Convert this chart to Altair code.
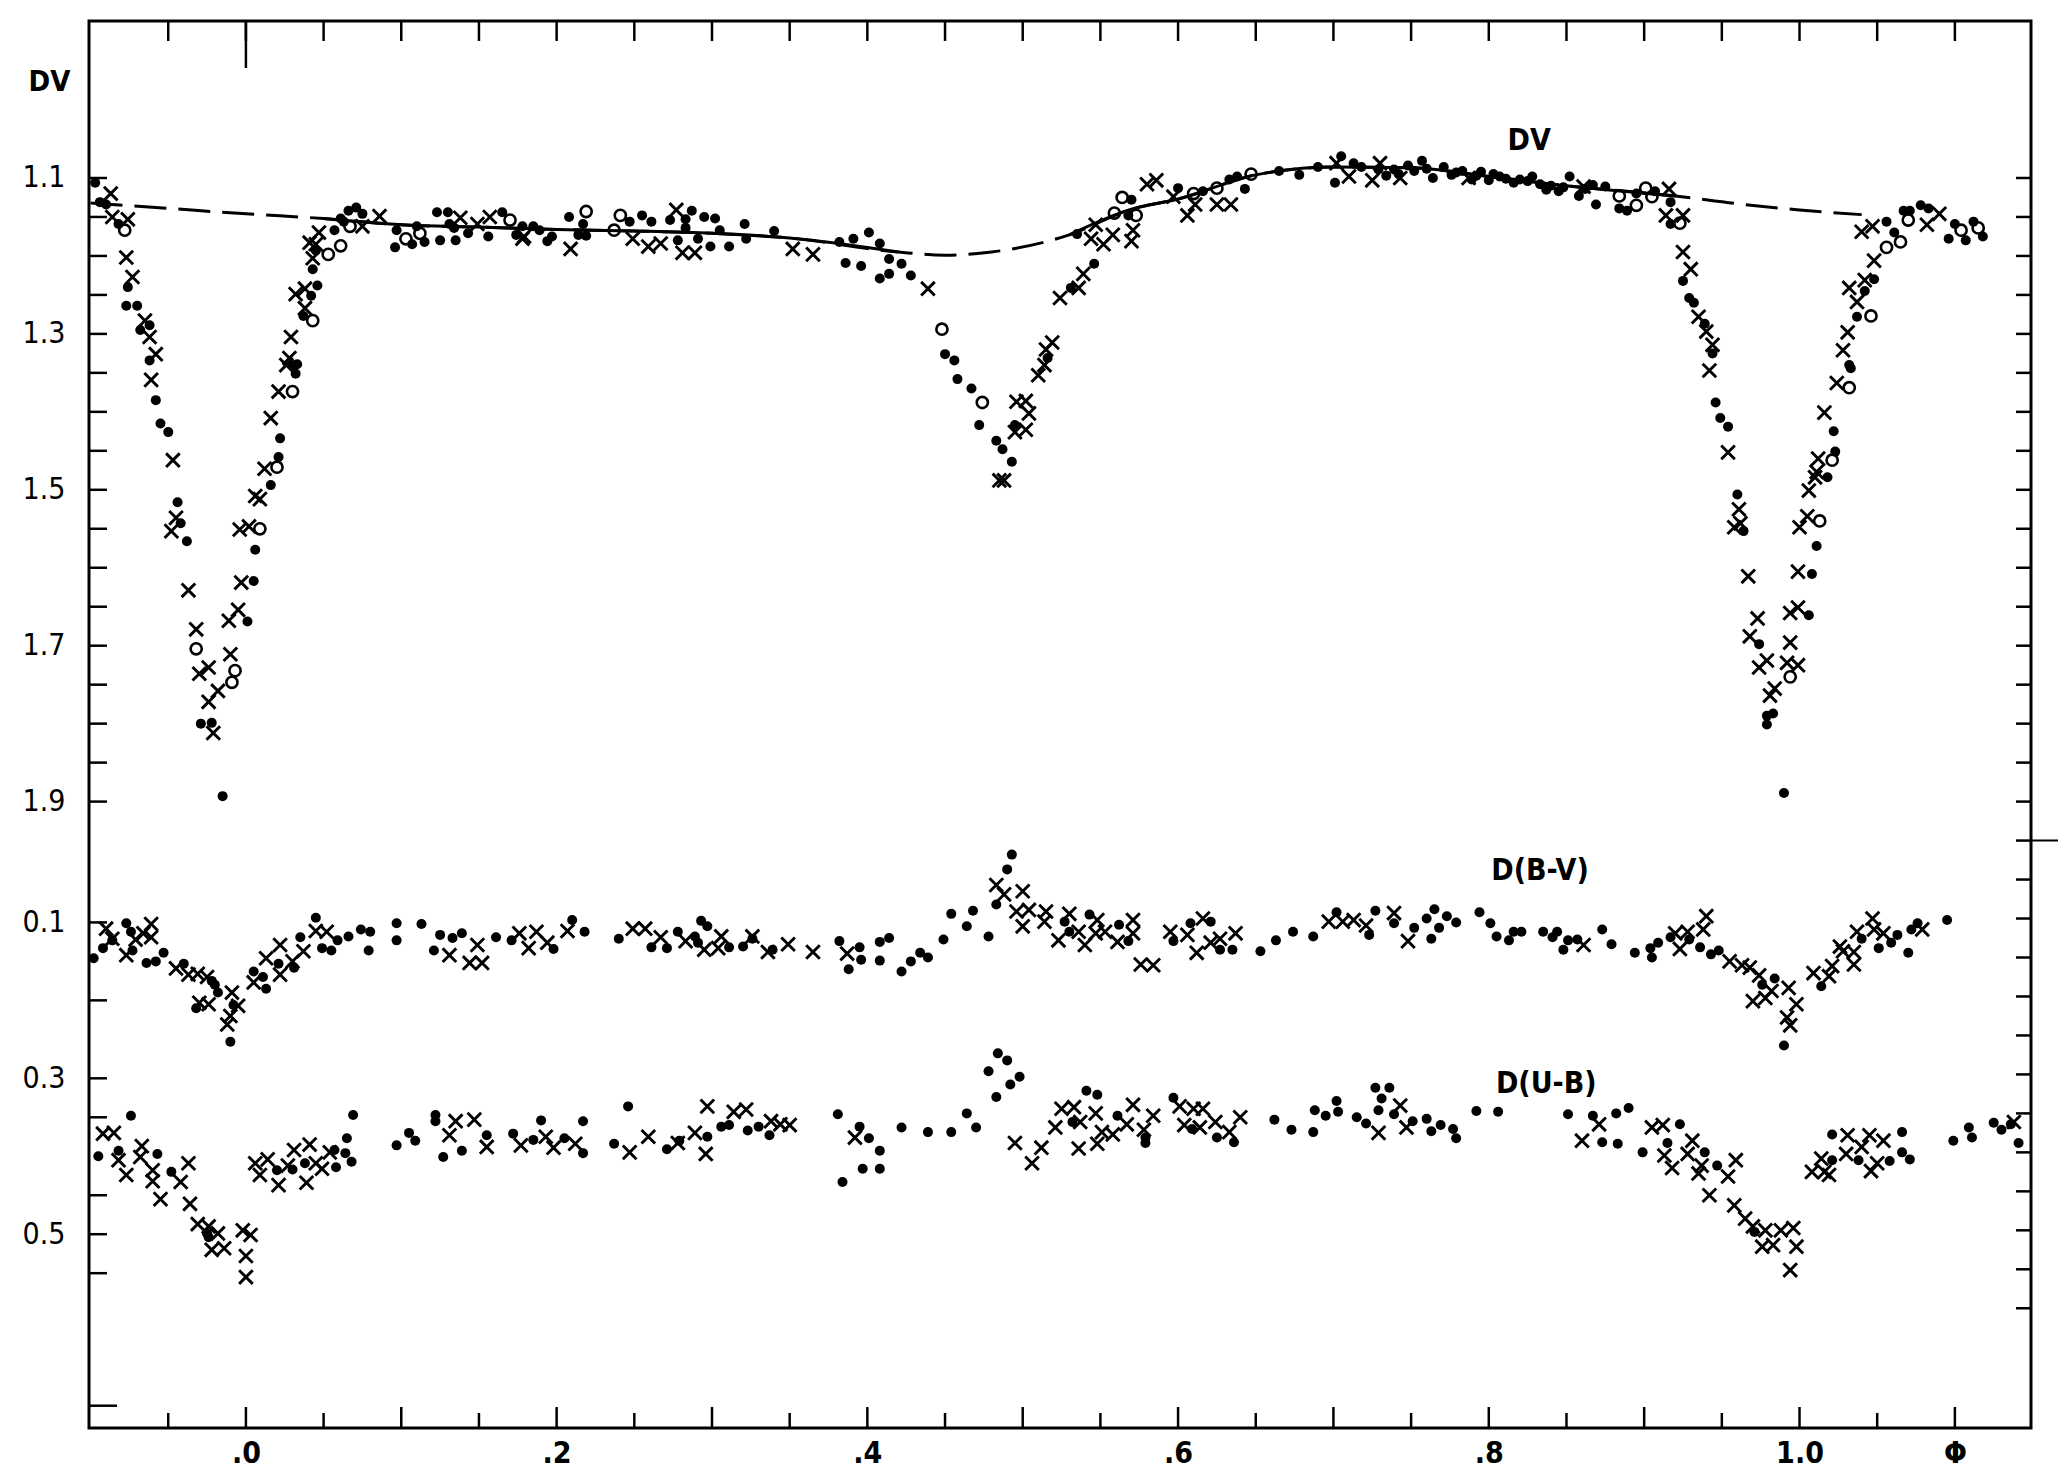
import altair as alt
import pandas as pd

# ---------------- data: (phase, value) ----------------
# DV panel
dv_dots = [
    (-0.097, 1.106), (-0.094, 1.131), (-0.090, 1.134), (-0.082, 1.159), (-0.076, 1.240),
    (-0.077, 1.264), (-0.070, 1.264), (-0.068, 1.295), (-0.062, 1.289), (-0.062, 1.334),
    (-0.058, 1.385), (-0.055, 1.415), (-0.050, 1.426), (-0.044, 1.516), (-0.042, 1.543),
    (-0.038, 1.566), (-0.029, 1.800), (-0.022, 1.799), (-0.015, 1.893), (0.001, 1.669),
    (0.005, 1.617), (0.006, 1.577), (0.016, 1.494), (0.021, 1.458), (0.022, 1.434),
    (0.030, 1.341), (0.033, 1.339), (0.032, 1.351), (0.037, 1.277), (0.042, 1.251),
    (0.046, 1.238), (0.043, 1.217), (0.045, 1.193), (0.057, 1.167), (0.061, 1.152),
    (0.063, 1.156), (0.066, 1.142), (0.071, 1.138), (0.075, 1.146), (0.096, 1.189),
    (0.097, 1.167), (0.107, 1.185), (0.115, 1.182), (0.110, 1.162), (0.123, 1.144),
    (0.125, 1.180), (0.130, 1.144), (0.135, 1.180), (0.131, 1.159), (0.143, 1.171),
    (0.134, 1.164), (0.156, 1.175), (0.165, 1.144), (0.174, 1.173), (0.178, 1.162),
    (0.185, 1.162), (0.189, 1.167), (0.194, 1.181), (0.197, 1.175), (0.208, 1.150),
    (0.214, 1.173), (0.219, 1.174), (0.217, 1.159), (0.247, 1.156), (0.255, 1.148),
    (0.261, 1.156), (0.273, 1.154), (0.278, 1.180), (0.283, 1.153), (0.287, 1.142),
    (0.295, 1.150), (0.302, 1.152), (0.291, 1.178), (0.299, 1.188), (0.311, 1.188),
    (0.305, 1.167), (0.283, 1.164),
    (0.321, 1.159), (0.322, 1.178), (0.340, 1.168), (0.382, 1.182), (0.391, 1.178),
    (0.401, 1.170), (0.408, 1.184), (0.386, 1.209), (0.396, 1.213), (0.414, 1.204),
    (0.422, 1.210), (0.408, 1.229), (0.414, 1.223), (0.428, 1.225), (0.450, 1.326),
    (0.456, 1.334), (0.458, 1.358), (0.467, 1.370), (0.472, 1.417), (0.483, 1.437),
    (0.487, 1.448), (0.493, 1.464), (0.495, 1.417), (0.516, 1.331), (0.531, 1.241),
    (0.546, 1.210), (0.535, 1.172), (0.570, 1.128), (0.568, 1.148), (0.600, 1.113),
    (0.616, 1.117), (0.633, 1.102), (0.638, 1.098), (0.643, 1.114), (0.665, 1.091),
    (0.678, 1.096), (0.690, 1.086), (0.701, 1.106), (0.705, 1.072), (0.718, 1.086),
    (0.729, 1.089), (0.713, 1.081), (0.734, 1.097),
    (0.739, 1.089), (0.748, 1.084), (0.757, 1.078), (0.764, 1.100), (0.771, 1.086),
    (0.776, 1.096), (0.783, 1.091), (0.789, 1.102), (0.795, 1.092), (0.800, 1.103),
    (0.807, 1.098), (0.816, 1.106), (0.828, 1.098), (0.837, 1.115), (0.845, 1.117),
    (0.852, 1.098), (0.858, 1.123), (0.867, 1.109), (0.869, 1.134), (0.875, 1.111),
    (0.884, 1.139), (0.889, 1.142), (0.895, 1.120), (0.907, 1.117), (0.917, 1.131),
    (0.917, 1.159), (0.742, 1.095), (0.752, 1.091), (0.760, 1.088), (0.779, 1.093),
    (0.792, 1.097), (0.803, 1.095), (0.811, 1.101), (0.820, 1.102), (0.825, 1.104),
    (0.833, 1.108), (0.840, 1.110), (0.848, 1.112), (0.862, 1.114),
    (0.925, 1.232), (0.929, 1.254), (0.932, 1.260), (0.939, 1.287), (0.944, 1.325),
    (0.946, 1.388), (0.949, 1.408), (0.954, 1.419), (0.960, 1.506), (0.964, 1.553),
    (0.974, 1.698), (0.979, 1.790), (0.983, 1.787), (0.979, 1.801), (0.990, 1.889),
    (1.006, 1.661), (1.008, 1.608), (1.011, 1.572), (1.018, 1.484), (1.023, 1.451),
    (1.022, 1.425), (1.032, 1.340), (1.033, 1.344), (1.037, 1.278), (1.042, 1.245),
    (1.048, 1.230), (1.061, 1.170), (1.056, 1.156), (1.067, 1.142), (1.071, 1.142),
    (1.078, 1.135), (1.083, 1.139), (1.100, 1.159), (1.096, 1.178), (1.107, 1.180),
    (1.112, 1.156), (1.118, 1.175),
]
dv_crosses = [
    (-0.087, 1.120), (-0.086, 1.150), (-0.076, 1.153), (-0.077, 1.202), (-0.073, 1.227),
    (-0.065, 1.283), (-0.062, 1.304), (-0.058, 1.326), (-0.061, 1.359), (-0.047, 1.462),
    (-0.045, 1.536), (-0.048, 1.553), (-0.037, 1.629), (-0.032, 1.679), (-0.030, 1.736),
    (-0.024, 1.728), (-0.018, 1.758), (-0.024, 1.772), (-0.021, 1.812), (-0.010, 1.711),
    (-0.011, 1.668), (-0.005, 1.654), (-0.003, 1.619), (-0.004, 1.551), (0.002, 1.547),
    (0.006, 1.508), (0.009, 1.512), (0.012, 1.473), (0.016, 1.408), (0.021, 1.374),
    (0.026, 1.340), (0.028, 1.331), (0.029, 1.304), (0.038, 1.267), (0.032, 1.249),
    (0.038, 1.242), (0.043, 1.203), (0.045, 1.185), (0.041, 1.183), (0.047, 1.170),
    (0.075, 1.162), (0.086, 1.149), (0.138, 1.151), (0.149, 1.159), (0.157, 1.150),
    (0.178, 1.178), (0.179, 1.175), (0.209, 1.191), (0.249, 1.178), (0.259, 1.188),
    (0.267, 1.184), (0.277, 1.141), (0.281, 1.196), (0.289, 1.196),
    (0.352, 1.191), (0.365, 1.198), (0.439, 1.242), (0.488, 1.488), (0.485, 1.488),
    (0.496, 1.387), (0.502, 1.386), (0.504, 1.402), (0.495, 1.426), (0.502, 1.423),
    (0.510, 1.353), (0.514, 1.340), (0.519, 1.311), (0.515, 1.320), (0.524, 1.254),
    (0.536, 1.241), (0.539, 1.223), (0.547, 1.160), (0.544, 1.178), (0.552, 1.185),
    (0.558, 1.173), (0.570, 1.181), (0.571, 1.167), (0.580, 1.108), (0.586, 1.103),
    (0.597, 1.124), (0.606, 1.148), (0.611, 1.134), (0.625, 1.134), (0.634, 1.134),
    (0.702, 1.081), (0.710, 1.098), (0.725, 1.103), (0.730, 1.081),
    (0.743, 1.100), (0.787, 1.100), (0.861, 1.111), (0.916, 1.114), (0.914, 1.148),
    (0.925, 1.148), (0.925, 1.195), (0.930, 1.217), (0.935, 1.278), (0.940, 1.297),
    (0.944, 1.314), (0.942, 1.347), (0.954, 1.452), (0.961, 1.525), (0.958, 1.548),
    (0.962, 1.543), (0.967, 1.611), (0.973, 1.665), (0.968, 1.688), (0.974, 1.728),
    (0.979, 1.719), (0.984, 1.755), (0.981, 1.764), (0.994, 1.696), (0.999, 1.725),
    (0.992, 1.722), (0.994, 1.658), (0.999, 1.651), (0.999, 1.605), (1.000, 1.548),
    (1.005, 1.534), (1.006, 1.501), (1.010, 1.484), (1.011, 1.477), (1.012, 1.460),
    (1.016, 1.401), (1.024, 1.363), (1.028, 1.321), (1.031, 1.298), (1.037, 1.259),
    (1.032, 1.241), (1.042, 1.231), (1.048, 1.206), (1.040, 1.169), (1.047, 1.162),
    (1.082, 1.160), (1.090, 1.146),
]
dv_open = [
    (-0.078, 1.167), (-0.032, 1.704), (-0.007, 1.732), (-0.009, 1.747), (0.009, 1.550),
    (0.020, 1.471), (0.030, 1.374), (0.043, 1.283), (0.053, 1.198), (0.061, 1.187),
    (0.067, 1.162), (0.103, 1.178), (0.112, 1.171), (0.170, 1.154), (0.219, 1.143),
    (0.237, 1.167), (0.241, 1.148), (0.448, 1.294), (0.474, 1.388), (0.564, 1.125),
    (0.559, 1.145), (0.573, 1.148), (0.625, 1.113), (0.647, 1.095), (0.610, 1.120),
    (0.884, 1.123), (0.895, 1.135), (0.901, 1.113), (0.905, 1.124), (0.923, 1.158),
    (0.994, 1.740), (1.013, 1.540), (1.021, 1.462), (1.032, 1.369), (1.046, 1.277),
    (1.056, 1.189), (1.065, 1.182), (1.070, 1.154), (1.104, 1.167), (1.115, 1.164),
]

# D(B-V)
bv_dots = [
    (-0.098, 0.146), (-0.092, 0.133), (-0.086, 0.123), (-0.077, 0.101), (-0.074, 0.112),
    (-0.073, 0.136), (-0.064, 0.152), (-0.058, 0.150), (-0.053, 0.139), (-0.040, 0.153),
    (-0.032, 0.210), (-0.022, 0.175), (-0.020, 0.180), (-0.018, 0.190), (-0.010, 0.253),
    (-0.008, 0.206), (0.005, 0.163), (0.013, 0.185), (0.011, 0.170), (0.021, 0.153),
    (0.031, 0.158), (0.035, 0.119), (0.045, 0.094), (0.049, 0.133), (0.055, 0.136),
    (0.059, 0.123), (0.066, 0.118), (0.074, 0.109), (0.080, 0.112), (0.079, 0.136),
    (0.097, 0.101), (0.097, 0.123), (0.113, 0.102), (0.125, 0.116), (0.121, 0.136),
    (0.133, 0.120), (0.139, 0.114), (0.161, 0.119), (0.171, 0.123), (0.198, 0.134),
    (0.210, 0.097), (0.218, 0.112), (0.240, 0.121), (0.261, 0.132), (0.271, 0.133),
    (0.278, 0.112), (0.293, 0.098), (0.297, 0.105), (0.289, 0.118), (0.291, 0.126),
    (0.311, 0.132),
    (0.320, 0.131), (0.326, 0.121), (0.339, 0.135), (0.382, 0.124), (0.388, 0.160),
    (0.395, 0.132), (0.396, 0.148), (0.408, 0.149), (0.408, 0.125), (0.414, 0.120),
    (0.422, 0.163), (0.428, 0.150), (0.434, 0.139), (0.439, 0.145), (0.449, 0.122),
    (0.454, 0.089), (0.464, 0.105), (0.468, 0.085), (0.478, 0.118), (0.483, 0.077),
    (0.490, 0.032), (0.493, 0.013), (0.527, 0.099), (0.530, 0.112), (0.543, 0.090),
    (0.562, 0.103), (0.568, 0.124), (0.597, 0.124), (0.608, 0.101), (0.621, 0.099),
    (0.627, 0.135), (0.635, 0.135), (0.653, 0.137), (0.663, 0.123), (0.674, 0.112),
    (0.687, 0.118), (0.702, 0.087), (0.727, 0.085), (0.723, 0.116),
    (0.739, 0.101), (0.752, 0.107), (0.760, 0.095), (0.765, 0.083), (0.768, 0.107),
    (0.773, 0.092), (0.779, 0.100), (0.763, 0.121), (0.794, 0.087), (0.801, 0.101),
    (0.805, 0.118), (0.813, 0.123), (0.816, 0.112), (0.821, 0.112), (0.835, 0.112),
    (0.841, 0.119), (0.844, 0.112), (0.848, 0.135), (0.851, 0.123), (0.857, 0.122),
    (0.873, 0.109), (0.879, 0.128), (0.894, 0.139), (0.904, 0.133), (0.905, 0.145),
    (0.909, 0.126), (0.917, 0.119), (0.929, 0.122), (0.936, 0.132), (0.943, 0.141),
    (0.948, 0.136), (0.976, 0.180), (0.984, 0.172), (0.990, 0.258), (1.014, 0.182),
    (1.040, 0.121), (1.051, 0.133), (1.059, 0.126), (1.063, 0.116), (1.070, 0.139),
    (1.072, 0.109), (1.076, 0.101), (1.095, 0.097),
]
bv_crosses = [
    (-0.090, 0.108), (-0.086, 0.121), (-0.061, 0.102), (-0.061, 0.119), (-0.077, 0.142),
    (-0.071, 0.122), (-0.066, 0.114), (-0.045, 0.159), (-0.037, 0.167), (-0.031, 0.166),
    (-0.025, 0.170), (-0.030, 0.203), (-0.024, 0.205), (-0.009, 0.190), (-0.005, 0.207),
    (-0.012, 0.231), (-0.010, 0.220), (0.005, 0.177), (0.013, 0.146), (0.022, 0.167),
    (0.022, 0.129), (0.030, 0.150), (0.037, 0.137), (0.045, 0.111), (0.052, 0.112),
    (0.131, 0.142), (0.149, 0.129), (0.144, 0.152), (0.152, 0.152), (0.176, 0.114),
    (0.182, 0.133), (0.187, 0.112), (0.194, 0.126), (0.207, 0.111), (0.249, 0.108),
    (0.257, 0.108), (0.267, 0.119), (0.295, 0.135), (0.304, 0.133), (0.306, 0.118),
    (0.283, 0.124),
    (0.326, 0.118), (0.336, 0.138), (0.349, 0.128), (0.365, 0.138), (0.387, 0.140),
    (0.483, 0.052), (0.488, 0.064), (0.500, 0.060), (0.496, 0.086), (0.500, 0.105),
    (0.504, 0.084), (0.514, 0.099), (0.515, 0.086), (0.530, 0.089), (0.523, 0.123),
    (0.536, 0.112), (0.540, 0.129), (0.548, 0.097), (0.547, 0.114), (0.553, 0.112),
    (0.561, 0.125), (0.571, 0.097), (0.571, 0.114), (0.576, 0.154), (0.584, 0.155),
    (0.595, 0.112), (0.606, 0.116), (0.616, 0.095), (0.612, 0.139), (0.621, 0.126),
    (0.627, 0.121), (0.637, 0.114), (0.697, 0.099), (0.706, 0.099), (0.713, 0.097),
    (0.721, 0.104),
    (0.739, 0.088), (0.748, 0.124), (0.861, 0.129), (0.923, 0.134), (0.920, 0.114),
    (0.928, 0.112), (0.938, 0.109), (0.940, 0.092), (0.955, 0.150), (0.963, 0.155),
    (0.968, 0.158), (0.974, 0.168), (0.970, 0.201), (0.978, 0.197), (0.982, 0.188),
    (0.993, 0.184), (0.998, 0.205), (0.992, 0.222), (0.994, 0.232), (1.009, 0.165),
    (1.019, 0.169), (1.021, 0.156), (1.026, 0.131), (1.028, 0.137), (1.035, 0.138),
    (1.035, 0.154), (1.037, 0.112), (1.047, 0.095), (1.048, 0.109), (1.054, 0.114),
    (1.079, 0.109),
]

# D(U-B)
ub_dots = [
    (-0.095, 0.400), (-0.074, 0.348), (-0.082, 0.393), (-0.057, 0.397), (-0.048, 0.420),
    (-0.025, 0.499), (-0.024, 0.504), (0.020, 0.418), (0.030, 0.417), (0.038, 0.409),
    (0.058, 0.414), (0.057, 0.392), (0.065, 0.377), (0.064, 0.396), (0.068, 0.407),
    (0.069, 0.347), (0.097, 0.386), (0.105, 0.370), (0.109, 0.380), (0.122, 0.347),
    (0.122, 0.355), (0.127, 0.401), (0.139, 0.393), (0.155, 0.373), (0.172, 0.371),
    (0.185, 0.379), (0.190, 0.354), (0.205, 0.377), (0.217, 0.355), (0.217, 0.396),
    (0.237, 0.384), (0.246, 0.336), (0.271, 0.391), (0.279, 0.380), (0.297, 0.375),
    (0.306, 0.362), (0.311, 0.360),
    (0.323, 0.367), (0.330, 0.362), (0.337, 0.373), (0.381, 0.346), (0.395, 0.362),
    (0.401, 0.377), (0.408, 0.393), (0.408, 0.416), (0.397, 0.416), (0.384, 0.433),
    (0.422, 0.363), (0.439, 0.369), (0.454, 0.369), (0.464, 0.345), (0.470, 0.363),
    (0.478, 0.291), (0.484, 0.268), (0.490, 0.277), (0.498, 0.298), (0.492, 0.308),
    (0.483, 0.324), (0.541, 0.316), (0.548, 0.321), (0.532, 0.356), (0.561, 0.348),
    (0.579, 0.376), (0.579, 0.383), (0.597, 0.325), (0.609, 0.365), (0.625, 0.376),
    (0.636, 0.382), (0.662, 0.353), (0.673, 0.366), (0.687, 0.369), (0.688, 0.341),
    (0.695, 0.348), (0.702, 0.329), (0.703, 0.343), (0.715, 0.350), (0.727, 0.312),
    (0.731, 0.326), (0.729, 0.341), (0.721, 0.358),
    (0.736, 0.312), (0.739, 0.346), (0.751, 0.355), (0.760, 0.352), (0.763, 0.368),
    (0.769, 0.360), (0.777, 0.365), (0.779, 0.377), (0.792, 0.342), (0.806, 0.343),
    (0.851, 0.346), (0.867, 0.348), (0.882, 0.345), (0.890, 0.338), (0.873, 0.382),
    (0.883, 0.384), (0.899, 0.395), (0.915, 0.383), (0.923, 0.359), (0.939, 0.395),
    (0.947, 0.412), (0.971, 0.497), (1.021, 0.405), (1.021, 0.372), (1.038, 0.405),
    (1.058, 0.406), (1.066, 0.369), (1.066, 0.395), (1.071, 0.404), (1.099, 0.380),
    (1.109, 0.363), (1.111, 0.376), (1.125, 0.357), (1.130, 0.366), (1.136, 0.359),
    (1.141, 0.383),
]
ub_crosses = [
    (-0.092, 0.371), (-0.085, 0.370), (-0.082, 0.405), (-0.077, 0.424), (-0.067, 0.387),
    (-0.068, 0.401), (-0.060, 0.418), (-0.060, 0.432), (-0.055, 0.455), (-0.037, 0.409),
    (-0.042, 0.433), (-0.036, 0.461), (-0.031, 0.487), (-0.024, 0.490), (-0.018, 0.499),
    (-0.022, 0.520), (-0.014, 0.518), (-0.002, 0.495), (0.003, 0.501), (0.000, 0.528),
    (0.000, 0.555), (0.006, 0.409), (0.014, 0.404), (0.009, 0.424), (0.021, 0.437),
    (0.031, 0.392), (0.027, 0.412), (0.039, 0.434), (0.041, 0.385), (0.045, 0.409),
    (0.049, 0.416), (0.054, 0.395), (0.135, 0.355), (0.131, 0.373), (0.147, 0.353),
    (0.155, 0.388), (0.177, 0.386), (0.193, 0.375), (0.198, 0.389), (0.212, 0.384),
    (0.247, 0.395), (0.259, 0.375), (0.278, 0.383), (0.289, 0.370), (0.296, 0.397),
    (0.297, 0.336), (0.314, 0.343),
    (0.322, 0.340), (0.338, 0.355), (0.344, 0.359), (0.350, 0.360), (0.392, 0.376),
    (0.495, 0.383), (0.512, 0.389), (0.506, 0.409), (0.521, 0.363), (0.525, 0.339),
    (0.533, 0.337), (0.537, 0.356), (0.547, 0.345), (0.536, 0.390), (0.548, 0.384),
    (0.551, 0.369), (0.558, 0.372), (0.567, 0.359), (0.571, 0.334), (0.578, 0.366),
    (0.584, 0.348), (0.601, 0.336), (0.610, 0.339), (0.616, 0.339), (0.604, 0.360),
    (0.614, 0.363), (0.624, 0.356), (0.640, 0.350), (0.633, 0.369), (0.729, 0.370),
    (0.743, 0.335), (0.747, 0.363), (0.860, 0.380), (0.871, 0.359), (0.905, 0.363),
    (0.912, 0.360), (0.913, 0.399), (0.918, 0.415), (0.928, 0.397), (0.931, 0.380),
    (0.935, 0.422), (0.937, 0.412), (0.942, 0.450), (0.959, 0.405), (0.954, 0.426),
    (0.958, 0.463), (0.965, 0.480), (0.970, 0.490), (0.978, 0.495), (0.976, 0.516),
    (0.983, 0.514), (0.988, 0.495), (0.996, 0.492), (0.998, 0.516), (0.994, 0.546),
    (1.008, 0.420), (1.014, 0.403), (1.019, 0.424), (1.016, 0.420), (1.030, 0.397),
    (1.031, 0.373), (1.040, 0.388), (1.045, 0.373), (1.046, 0.419), (1.054, 0.380),
    (1.050, 0.409), (1.138, 0.356),
]

# model light curve outside eclipse (DV)
model_phase = [-0.10, -0.05, 0.00, 0.05, 0.10, 0.15, 0.20, 0.25, 0.30, 0.35, 0.42, 0.45,
               0.48, 0.53, 0.57, 0.60, 0.65, 0.70, 0.75, 0.80, 0.85, 0.92, 0.96, 1.00, 1.04]
model_dv = [1.132, 1.139, 1.146, 1.152, 1.160, 1.163, 1.166, 1.168, 1.171, 1.177, 1.195, 1.199,
            1.195, 1.173, 1.140, 1.127, 1.096, 1.086, 1.087, 1.098, 1.110, 1.123, 1.133, 1.141, 1.147]

# in-plot labels: (phase, value, band, text)
band_labels = [(0.826, 1.053, "DV", "DV"), (0.833, 0.034, "BV", "D(B-V)"), (0.837, 0.307, "UB", "D(U-B)")]

# axis labels
x_label_values = [0.0, 0.2, 0.4, 0.6, 0.8, 1.0, 1.1]
x_label_text = [".0", ".2", ".4", ".6", ".8", "1.0", "Φ"]
dv_label_values = [1.1, 1.3, 1.5, 1.7, 1.9]
color_label_values = [0.1, 0.3, 0.5]

# tick positions
x_major_ticks = [round(-0.0 + 0.1 * i, 2) for i in range(12)]
x_minor_ticks = [round(-0.05 + 0.1 * i, 2) for i in range(12)]
left_ticks_dv = [round(1.10 + 0.05 * i, 2) for i in range(17)]
left_ticks_color = [0.10, 0.20, 0.30, 0.35, 0.45, 0.50, 0.55]
left_long_tick_color = [0.72]
right_ticks_plot = [round(1.10 + 0.05 * i, 2) for i in range(30)]
divider_plot = [1.95]

# ---------------- layout ----------------
W, H = 1942, 1407
OFFSET = 1.955           # colour scale sits below the DV scale on the same axis
X_DOMAIN = [-0.101, 1.149]
Y_DOMAIN = [0.8986, 2.7036]
FONT = "Liberation Sans Narrow, DejaVu Sans Condensed, Liberation Sans, sans-serif"

def _expr(values, texts):
    e = "''"
    for v, t in reversed(list(zip(values, texts))):
        e = f"abs(datum.value - {v}) < 0.002 ? '{t}' : ({e})"
    return e

y_vals = dv_label_values + [round(c + OFFSET, 3) for c in color_label_values]
y_txt = [f"{v:.1f}" for v in dv_label_values] + [f"{c:.1f}" for c in color_label_values]

xscale = alt.Scale(domain=X_DOMAIN, nice=False, zero=False)
yscale = alt.Scale(domain=Y_DOMAIN, nice=False, zero=False, reverse=True)
xaxis = alt.Axis(values=x_label_values, labelExpr=_expr(x_label_values, x_label_text),
                 ticks=False, tickSize=0, domain=False, grid=False, title="",
                 labelFont=FONT, labelFontSize=30, labelFontWeight="bold", labelColor="black",
                 labelPadding=10, labelFlush=False)
yaxis = alt.Axis(values=y_vals, labelExpr=_expr(y_vals, y_txt),
                 ticks=False, tickSize=0, domain=False, grid=False,
                 labelFont=FONT, labelFontSize=30, labelColor="black", labelPadding=24,
                 title="DV", titleAngle=0, titleX=-40, titleY=60, titleAlign="center",
                 titleBaseline="middle", titleFont=FONT, titleFontSize=29,
                 titleFontWeight="bold", titleColor="black")

def X(f):
    return alt.X(f, type="quantitative", scale=xscale, axis=xaxis)

def Y(f):
    return alt.Y(f, type="quantitative", scale=yscale, axis=yaxis)

# ---------------- frames ----------------
rows = []
for band, kind, pts in [("DV", "dot", dv_dots), ("DV", "cross", dv_crosses), ("DV", "open", dv_open),
                        ("BV", "dot", bv_dots), ("BV", "cross", bv_crosses),
                        ("UB", "dot", ub_dots), ("UB", "cross", ub_crosses)]:
    for ph, v in pts:
        rows.append({"phase": ph, "value": v, "band": band, "kind": kind})
points = pd.DataFrame(rows)
model = pd.DataFrame({"phase": model_phase, "value": model_dv})
labels = pd.DataFrame(band_labels, columns=["phase", "value", "band", "text"])

to_plot = f"datum.band == 'DV' ? datum.value : datum.value + {OFFSET}"

base_pts = alt.Chart(points).transform_calculate(yplot=to_plot)
dots = base_pts.transform_filter("datum.kind == 'dot'").mark_point(
    shape="circle", filled=True, size=100, color="black", opacity=1
).encode(x=X("phase"), y=Y("yplot"))
crosses = base_pts.transform_filter("datum.kind == 'cross'").mark_point(
    shape="M-1,-1L1,1M-1,1L1,-1", filled=False, size=185, strokeWidth=2.9,
    color="black", opacity=1
).encode(x=X("phase"), y=Y("yplot"))
opens = base_pts.transform_filter("datum.kind == 'open'").mark_point(
    shape="circle", filled=False, size=125, strokeWidth=2.6, color="black", opacity=1
).encode(x=X("phase"), y=Y("yplot"))

dashed = alt.Chart(model).mark_line(
    color="black", strokeWidth=3, strokeDash=[32, 12], interpolate="monotone"
).encode(x=X("phase"), y=Y("value"))
solid1 = alt.Chart(model).transform_filter(
    alt.FieldRangePredicate(field="phase", range=[0.05, 0.42])
).mark_line(color="black", strokeWidth=3, interpolate="monotone").encode(x=X("phase"), y=Y("value"))
solid2 = alt.Chart(model).transform_filter(
    alt.FieldRangePredicate(field="phase", range=[0.53, 0.92])
).mark_line(color="black", strokeWidth=3, interpolate="monotone").encode(x=X("phase"), y=Y("value"))

texts = alt.Chart(labels).transform_calculate(yplot=to_plot).mark_text(
    font=FONT, fontSize=30, fontWeight="bold", color="black", align="center", baseline="middle"
).encode(x=X("phase"), y=Y("yplot"), text="text:N")

# ticks (inward)
left_df = pd.DataFrame({"t": left_ticks_dv + [round(c + OFFSET, 3) for c in left_ticks_color]})
left_long_df = pd.DataFrame({"t": [round(c + OFFSET, 3) for c in left_long_tick_color]})
right_df = pd.DataFrame({"t": right_ticks_plot})
xmaj_df = pd.DataFrame({"t": x_major_ticks})
xmin_df = pd.DataFrame({"t": x_minor_ticks})
top_long_df = pd.DataFrame({"t": [0.0]})
div_df = pd.DataFrame({"t": divider_plot})

rule = dict(color="black", strokeWidth=2.5)
left_t = alt.Chart(left_df).mark_rule(**rule).encode(y=Y("t"), x=alt.value(0), x2=alt.value(18))
left_l = alt.Chart(left_long_df).mark_rule(**rule).encode(y=Y("t"), x=alt.value(0), x2=alt.value(28))
right_t = alt.Chart(right_df).mark_rule(**rule).encode(y=Y("t"), x=alt.value(W), x2=alt.value(W - 15))
divider = alt.Chart(div_df).mark_rule(color="black", strokeWidth=2).encode(
    y=Y("t"), x=alt.value(W), x2=alt.value(W + 36))
bot_maj = alt.Chart(xmaj_df).mark_rule(**rule).encode(x=X("t"), y=alt.value(H), y2=alt.value(H - 21))
bot_min = alt.Chart(xmin_df).mark_rule(**rule).encode(x=X("t"), y=alt.value(H), y2=alt.value(H - 15))
top_maj = alt.Chart(xmaj_df).mark_rule(**rule).encode(x=X("t"), y=alt.value(0), y2=alt.value(20))
top_min = alt.Chart(xmin_df).mark_rule(**rule).encode(x=X("t"), y=alt.value(0), y2=alt.value(20))
top_long = alt.Chart(top_long_df).mark_rule(**rule).encode(x=X("t"), y=alt.value(0), y2=alt.value(47))

chart = alt.layer(
    dashed, solid1, solid2, dots, crosses, opens, texts,
    left_t, left_l, right_t, divider, bot_maj, bot_min, top_maj, top_min, top_long
).properties(
    width=W, height=H,
    autosize=alt.AutoSizeParams(type="none"),
    padding={"left": 81, "top": 13, "right": 27, "bottom": 43},
    background="white",
).configure_view(stroke="black", strokeWidth=3)

chart.save("out.html", embed_options={"renderer": "svg", "actions": False})
